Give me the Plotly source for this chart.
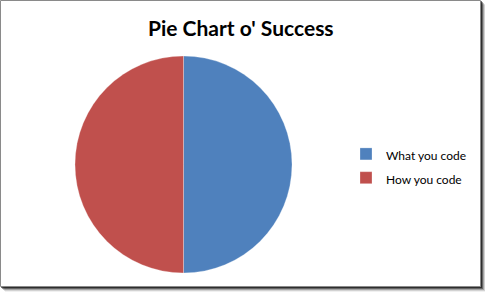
import plotly.graph_objects as go

# Chart data
labels = ["What you code", "How you code"]
values = [50, 50]
colors = ["#4F81BD", "#C0504D"]

W, H = 485, 293


def px_x(v):
    return v / W


def px_y(v):
    return 1 - v / H


# Legend rows are spaced by the legend font size; the label text itself stays at 12px
legend_labels = [f"<span style='font-size:12px'>{s}</span>" for s in labels]

fig = go.Figure(
    go.Pie(
        labels=legend_labels,
        values=values,
        marker=dict(colors=colors, line=dict(color="rgba(255,255,255,0.45)", width=0.6)),
        sort=False,
        direction="clockwise",
        rotation=0,
        textinfo="none",
        hoverinfo="label+percent",
        domain=dict(x=[px_x(75), px_x(292)], y=[px_y(273), px_y(56)]),
    )
)

# Frame with a soft drop shadow on the right and bottom
shapes = []
for off, alpha in [(5, 0.06), (4, 0.12), (3, 0.22), (2, 0.38), (1, 0.55)]:
    shapes.append(
        dict(
            type="rect", xref="paper", yref="paper", layer="below",
            x0=px_x(0 + off), x1=px_x(481 + off), y0=px_y(287 + off), y1=px_y(0 + off),
            fillcolor=f"rgba(0,0,0,{alpha})", line=dict(width=0),
        )
    )
shapes.append(
    dict(
        type="rect", xref="paper", yref="paper", layer="below",
        x0=px_x(0.5), x1=px_x(480.5), y0=px_y(286.5), y1=px_y(0.5),
        fillcolor="white", line=dict(color="#8a8a8a", width=1),
    )
)

fig.update_layout(
    width=W,
    height=H,
    autosize=False,
    margin=dict(l=0, r=0, t=0, b=0),
    paper_bgcolor="rgba(0,0,0,0)",
    plot_bgcolor="rgba(0,0,0,0)",
    shapes=shapes,
    annotations=[
        dict(
            text="<b>Pie Chart o' Success</b>",
            xref="paper", yref="paper",
            x=px_x(241), y=px_y(27),
            xanchor="center", yanchor="middle",
            showarrow=False,
            font=dict(family="Lato, Carlito, sans-serif", size=21, color="black"),
        )
    ],
    showlegend=True,
    legend=dict(
        x=px_x(346), y=px_y(166),
        xanchor="left", yanchor="middle",
        bgcolor="rgba(0,0,0,0)",
        font=dict(family="Lato, Carlito, sans-serif", size=16, color="black"),
        itemwidth=30,
    ),
)

fig.write_html(
    "out.html",
    config={"responsive": False, "displayModeBar": False},
    post_script="document.body.style.margin='0';document.body.style.overflow='hidden';",
)
